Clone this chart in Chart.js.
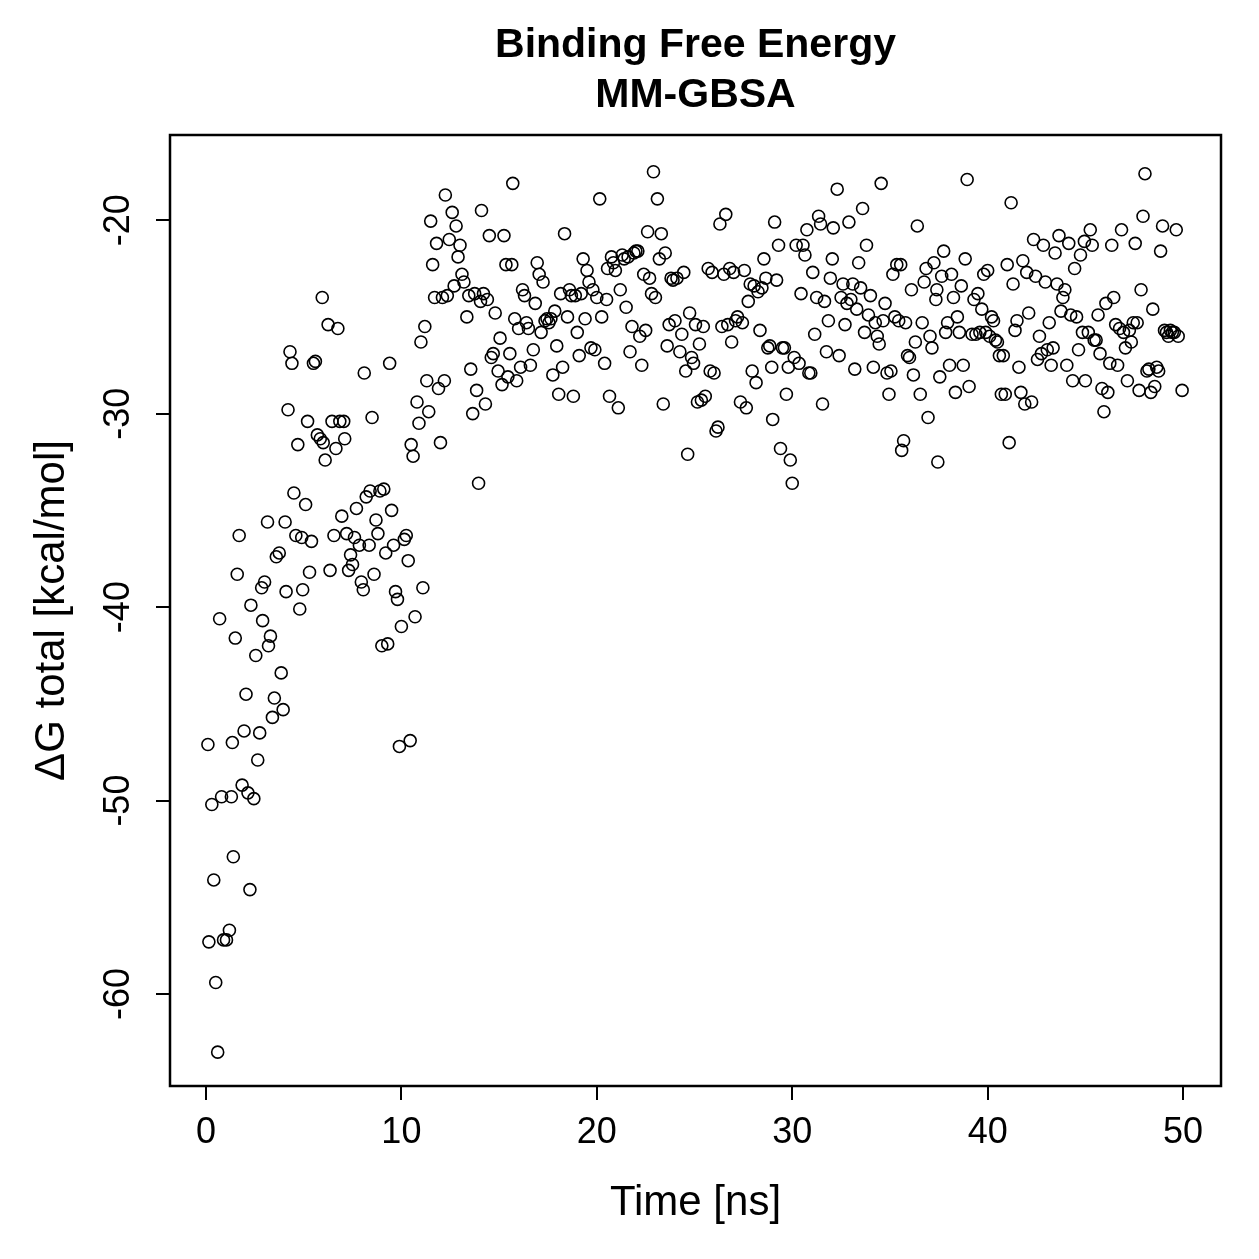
<!DOCTYPE html>
<html>
<head>
<meta charset="utf-8">
<script src="https://cdn.jsdelivr.net/npm/chart.js@4.4.1/dist/chart.umd.min.js"></script>
<style>
  body { margin: 0; background: #fff; }
  #wrap { width: 1259px; height: 1259px; }
</style>
</head>
<body>
<div id="wrap"><canvas id="dgChart"></canvas></div>
<script>
const titleLines = ['Binding Free Energy', 'MM-GBSA'];
const xTitle = 'Time [ns]';
const yTitle = '\u0394G total [kcal/mol]';
const xTicks = [0, 10, 20, 30, 40, 50];
const yTicks = [-60, -50, -40, -30, -20];

// time [ns]
const times = [
  0.1, 0.15, 0.3, 0.4, 0.5, 0.6, 0.7, 0.8, 0.9, 1.05,
  1.2, 1.3, 1.35, 1.4, 1.5, 1.6, 1.7, 1.85, 1.95, 2.05,
  2.15, 2.25, 2.3, 2.45, 2.55, 2.65, 2.75, 2.85, 2.9, 3.0,
  3.15, 3.2, 3.3, 3.4, 3.5, 3.6, 3.75, 3.85, 3.95, 4.05,
  4.1, 4.2, 4.3, 4.4, 4.5, 4.6, 4.7, 4.8, 4.9, 4.95,
  5.1, 5.2, 5.3, 5.4, 5.5, 5.6, 5.7, 5.85, 5.95, 6.0,
  6.1, 6.25, 6.35, 6.45, 6.55, 6.65, 6.75, 6.85, 6.95, 7.05,
  7.1, 7.2, 7.3, 7.4, 7.5, 7.6, 7.7, 7.85, 7.95, 8.05,
  8.1, 8.2, 8.35, 8.4, 8.5, 8.6, 8.7, 8.8, 8.9, 9.0,
  9.1, 9.2, 9.3, 9.4, 9.5, 9.6, 9.7, 9.8, 9.9, 10.0,
  10.15, 10.25, 10.35, 10.45, 10.5, 10.6, 10.7, 10.8, 10.9, 11.0,
  11.1, 11.2, 11.3, 11.4, 11.5, 11.6, 11.7, 11.8, 11.9, 12.0,
  12.1, 12.2, 12.25, 12.35, 12.45, 12.6, 12.7, 12.8, 12.9, 13.0,
  13.1, 13.2, 13.35, 13.45, 13.55, 13.65, 13.75, 13.85, 13.95, 14.05,
  14.1, 14.2, 14.3, 14.4, 14.5, 14.6, 14.7, 14.8, 14.95, 15.05,
  15.15, 15.25, 15.35, 15.45, 15.55, 15.65, 15.7, 15.8, 15.9, 16.0,
  16.1, 16.2, 16.3, 16.4, 16.5, 16.6, 16.75, 16.85, 16.95, 17.05,
  17.15, 17.25, 17.35, 17.45, 17.55, 17.65, 17.75, 17.85, 17.95, 18.05,
  18.15, 18.25, 18.35, 18.5, 18.6, 18.7, 18.8, 18.9, 19.0, 19.1,
  19.2, 19.3, 19.4, 19.5, 19.6, 19.7, 19.8, 19.9, 20.0, 20.15,
  20.25, 20.4, 20.5, 20.55, 20.65, 20.75, 20.85, 20.95, 21.1, 21.2,
  21.3, 21.4, 21.5, 21.6, 21.7, 21.8, 21.9, 22.0, 22.1, 22.2,
  22.3, 22.4, 22.5, 22.6, 22.7, 22.8, 22.9, 23.0, 23.1, 23.2,
  23.3, 23.4, 23.5, 23.6, 23.7, 23.8, 23.9, 24.0, 24.1, 24.25,
  24.35, 24.45, 24.55, 24.65, 24.75, 24.85, 24.95, 25.05, 25.15, 25.25,
  25.35, 25.45, 25.55, 25.7, 25.8, 25.9, 26.0, 26.1, 26.2, 26.3,
  26.4, 26.5, 26.6, 26.7, 26.8, 26.9, 27.0, 27.1, 27.2, 27.35,
  27.45, 27.55, 27.65, 27.75, 27.85, 27.95, 28.05, 28.15, 28.25, 28.35,
  28.45, 28.55, 28.65, 28.75, 28.85, 28.95, 29.0, 29.1, 29.2, 29.3,
  29.4, 29.5, 29.6, 29.7, 29.8, 29.9, 30.0, 30.1, 30.2, 30.35,
  30.45, 30.55, 30.65, 30.75, 30.85, 30.95, 31.05, 31.15, 31.25, 31.35,
  31.45, 31.55, 31.65, 31.75, 31.85, 31.95, 32.05, 32.1, 32.3, 32.4,
  32.5, 32.6, 32.7, 32.8, 32.9, 33.0, 33.1, 33.2, 33.3, 33.4,
  33.5, 33.6, 33.7, 33.8, 33.9, 34.0, 34.15, 34.25, 34.35, 34.45,
  34.55, 34.65, 34.75, 34.85, 34.95, 35.05, 35.15, 35.25, 35.35, 35.45,
  35.55, 35.6, 35.7, 35.8, 35.9, 36.0, 36.1, 36.2, 36.3, 36.4,
  36.55, 36.65, 36.75, 36.85, 36.95, 37.05, 37.15, 37.25, 37.35, 37.4,
  37.45, 37.55, 37.65, 37.75, 37.85, 37.95, 38.05, 38.15, 38.25, 38.35,
  38.45, 38.55, 38.65, 38.75, 38.85, 38.95, 39.05, 39.2, 39.3, 39.4,
  39.5, 39.6, 39.7, 39.8, 39.9, 40.0, 40.1, 40.2, 40.3, 40.4,
  40.5, 40.6, 40.7, 40.8, 40.9, 41.0, 41.1, 41.2, 41.3, 41.4,
  41.5, 41.6, 41.7, 41.8, 41.9, 42.0, 42.1, 42.25, 42.35, 42.45,
  42.55, 42.65, 42.75, 42.85, 42.95, 43.05, 43.15, 43.25, 43.35, 43.45,
  43.55, 43.65, 43.75, 43.85, 43.95, 44.05, 44.15, 44.25, 44.35, 44.45,
  44.55, 44.65, 44.75, 44.85, 44.95, 45.0, 45.15, 45.25, 45.35, 45.45,
  45.55, 45.65, 45.75, 45.85, 45.95, 46.05, 46.15, 46.25, 46.35, 46.45,
  46.55, 46.65, 46.75, 46.85, 46.95, 47.05, 47.15, 47.25, 47.35, 47.45,
  47.55, 47.65, 47.75, 47.85, 47.95, 48.05, 48.15, 48.25, 48.35, 48.45,
  48.55, 48.65, 48.75, 48.85, 48.95, 49.05, 49.15, 49.25, 49.35, 49.45,
  49.55, 49.65, 49.75, 49.95
];

// delta G total [kcal/mol], same order as times
const dG = [
  -47.1, -57.3, -50.2, -54.1, -59.4, -63.0, -40.6, -49.8, -57.2, -57.2,
  -56.7, -49.8, -47.0, -52.9, -41.6, -38.3, -36.3, -49.2, -46.4, -44.5,
  -49.6, -54.6, -39.9, -49.9, -42.5, -47.9, -46.5, -39.0, -40.7, -38.7,
  -35.6, -42.0, -41.5, -45.7, -44.7, -37.4, -37.2, -43.4, -45.3, -35.6,
  -39.2, -29.8, -26.8, -27.4, -34.1, -36.3, -31.6, -40.1, -36.4, -39.1,
  -34.7, -30.4, -38.2, -36.6, -27.4, -27.3, -31.1, -31.3, -24.0, -31.5,
  -32.4, -25.4, -38.1, -30.4, -36.3, -31.8, -25.6, -30.4, -35.3, -30.4,
  -31.3, -36.2, -38.1, -37.3, -37.8, -36.4, -34.9, -36.8, -38.7, -39.1,
  -27.9, -34.3, -36.8, -34.0, -30.2, -38.3, -35.5, -36.2, -34.0, -42.0,
  -33.9, -37.2, -41.9, -27.4, -35.0, -36.8, -39.2, -39.6, -47.2, -41.0,
  -36.5, -36.3, -37.6, -46.9, -31.6, -32.2, -40.5, -29.4, -30.5, -26.3,
  -39.0, -25.5, -28.3, -29.9, -20.05, -22.3, -24.0, -21.2, -28.7, -31.5,
  -24.0, -28.3, -18.7, -23.9, -21.0, -19.6, -23.4, -20.3, -21.9, -21.3,
  -22.8, -23.2, -25.0, -23.9, -27.7, -30.0, -23.8, -28.8, -33.6, -24.2,
  -19.5, -23.8, -29.5, -24.1, -20.8, -27.1, -26.9, -24.8, -27.8, -26.1,
  -28.5, -20.8, -22.3, -28.1, -26.9, -22.3, -18.1, -25.1, -28.3, -25.6,
  -27.6, -23.6, -23.9, -25.3, -25.6, -27.5, -26.7, -24.3, -22.2, -22.8,
  -25.8, -23.2, -25.2, -25.1, -25.3, -25.1, -28.0, -24.7, -26.5, -29.0,
  -23.8, -27.6, -20.7, -25.0, -23.6, -23.9, -29.1, -23.9, -25.8, -27.0,
  -23.8, -22.0, -25.1, -22.6, -23.2, -26.6, -23.6, -26.7, -24.0, -18.9,
  -25.0, -27.4, -24.1, -22.5, -29.1, -21.9, -22.2, -22.6, -29.7, -23.6,
  -21.8, -22.0, -24.5, -21.9, -26.8, -25.5, -21.7, -21.6, -21.6, -26.0,
  -27.5, -22.8, -25.7, -20.6, -23.0, -23.8, -17.5, -24.0, -18.9, -22.0,
  -20.7, -29.5, -21.7, -26.5, -25.4, -23.0, -23.1, -25.2, -23.0, -26.8,
  -25.9, -22.7, -27.8, -32.1, -24.8, -27.1, -27.4, -25.4, -29.4, -26.4,
  -29.3, -25.5, -29.1, -22.5, -27.8, -22.7, -27.9, -30.9, -30.7, -20.2,
  -25.5, -22.8, -19.7, -25.4, -22.5, -26.3, -22.7, -25.2, -25.0, -29.4,
  -25.3, -22.6, -29.7, -24.2, -23.3, -27.8, -23.4, -28.4, -23.7, -25.7,
  -23.5, -22.0, -23.0, -26.6, -26.5, -27.6, -30.3, -20.1, -23.1, -21.3,
  -31.8, -26.6, -26.6, -29.0, -27.6, -32.4, -33.6, -27.1, -21.3, -27.4,
  -23.8, -21.3, -21.8, -20.5, -27.9, -27.9, -22.7, -25.9, -24.0, -19.8,
  -20.2, -29.5, -24.2, -26.8, -25.2, -23.0, -22.0, -20.4, -18.4, -27.0,
  -24.0, -23.3, -25.4, -24.3, -20.1, -24.1, -23.3, -27.7, -24.6, -22.2,
  -23.5, -19.4, -25.8, -21.3, -24.9, -23.9, -27.6, -25.3, -26.0, -26.4,
  -18.1, -25.2, -24.3, -27.9, -29.0, -27.8, -22.8, -25.0, -22.3, -25.2,
  -22.3, -31.9, -31.4, -25.3, -27.0, -27.1, -23.6, -28.0, -26.3, -20.3,
  -29.0, -25.3, -23.2, -22.5, -30.2, -26.0, -26.6, -22.2, -24.1, -23.6,
  -32.5, -28.1, -22.9, -21.6, -25.8, -25.3, -27.5, -22.8, -24.0, -28.9,
  -25.0, -25.8, -23.4, -27.5, -22.0, -17.9, -28.6, -25.9, -24.1, -25.9,
  -23.8, -25.8, -24.6, -22.8, -25.8, -22.6, -26.0, -25.0, -25.2, -26.2,
  -26.3, -27.0, -29.0, -27.0, -29.0, -22.3, -31.5, -19.1, -23.3, -25.7,
  -25.2, -27.6, -28.9, -22.1, -29.5, -22.7, -24.8, -29.4, -21.0, -22.9,
  -27.2, -26.0, -26.9, -21.3, -23.2, -26.7, -25.3, -27.5, -26.6, -21.7,
  -23.3, -20.8, -24.7, -24.0, -23.6, -27.5, -21.2, -24.9, -28.3, -22.5,
  -25.0, -26.7, -21.8, -25.8, -21.1, -28.3, -25.8, -20.5, -21.3, -26.2,
  -26.2, -24.9, -26.9, -28.7, -29.9, -24.3, -28.9, -27.4, -21.3, -24.0,
  -25.4, -27.5, -25.6, -20.5, -25.8, -26.6, -28.3, -25.7, -26.3, -25.3,
  -21.2, -25.3, -28.8, -23.6, -19.8, -17.6, -27.8, -27.7, -28.9, -24.6,
  -28.6, -27.6, -27.8, -21.6, -20.3, -25.7, -25.8, -26.0, -25.7, -25.8,
  -25.8, -20.5, -26.0, -28.8
];

const points = times.map((t, i) => ({ x: t, y: dG[i] }));
const fontFamily = '"Liberation Sans", Arial, Helvetica, sans-serif';

const decor = {
  id: 'decor',
  afterDraw(chart) {
    const { ctx, chartArea: a, scales } = chart;
    const cx = (a.left + a.right) / 2;
    ctx.save();
    ctx.strokeStyle = '#000';
    ctx.lineWidth = 2.5;
    ctx.strokeRect(a.left, a.top, a.right - a.left, a.bottom - a.top);

    ctx.fillStyle = '#000';
    ctx.textAlign = 'center';
    ctx.textBaseline = 'middle';
    ctx.font = 'bold 41px ' + fontFamily;
    ctx.fillText(titleLines[0], cx, 46);
    ctx.fillText(titleLines[1], cx, 96);

    ctx.font = '42px ' + fontFamily;
    ctx.fillText(xTitle, cx, 1203);

    ctx.save();
    ctx.translate(52, (a.top + a.bottom) / 2);
    ctx.rotate(-Math.PI / 2);
    ctx.fillText(yTitle, 0, 0);
    ctx.restore();

    // y tick labels run along the axis, like base R
    ctx.font = '36px ' + fontFamily;
    yTicks.forEach(v => {
      const y = scales.y.getPixelForValue(v);
      ctx.save();
      ctx.translate(119, y);
      ctx.rotate(-Math.PI / 2);
      ctx.fillText(String(v), 0, 0);
      ctx.restore();
    });
    ctx.restore();
  }
};

new Chart(document.getElementById('dgChart'), {
  type: 'scatter',
  data: {
    datasets: [{
      data: points,
      pointStyle: 'circle',
      pointRadius: 6,
      pointBorderWidth: 1.6,
      borderColor: '#000',
      backgroundColor: 'rgba(0,0,0,0)'
    }]
  },
  options: {
    responsive: true,
    maintainAspectRatio: false,
    animation: false,
    layout: { padding: { top: 135, right: 38, left: 0, bottom: 0 } },
    plugins: { legend: { display: false }, tooltip: { enabled: false } },
    scales: {
      x: {
        type: 'linear',
        min: -1.84,
        max: 51.94,
        afterBuildTicks: s => { s.ticks = xTicks.map(v => ({ value: v })); },
        afterFit: s => { s.height = 173; },
        grid: { drawOnChartArea: false, drawTicks: true, tickLength: 14, color: '#000', lineWidth: 2 },
        border: { display: false },
        ticks: { color: '#000', font: { size: 36, family: fontFamily }, padding: 11, maxRotation: 0 }
      },
      y: {
        type: 'linear',
        min: -64.75,
        max: -15.6,
        afterBuildTicks: s => { s.ticks = yTicks.map(v => ({ value: v })); },
        afterFit: s => { s.width = 170; },
        grid: { drawOnChartArea: false, drawTicks: true, tickLength: 14, color: '#000', lineWidth: 2 },
        border: { display: false },
        ticks: { display: false }
      }
    }
  },
  plugins: [decor]
});
</script>
</body>
</html>
